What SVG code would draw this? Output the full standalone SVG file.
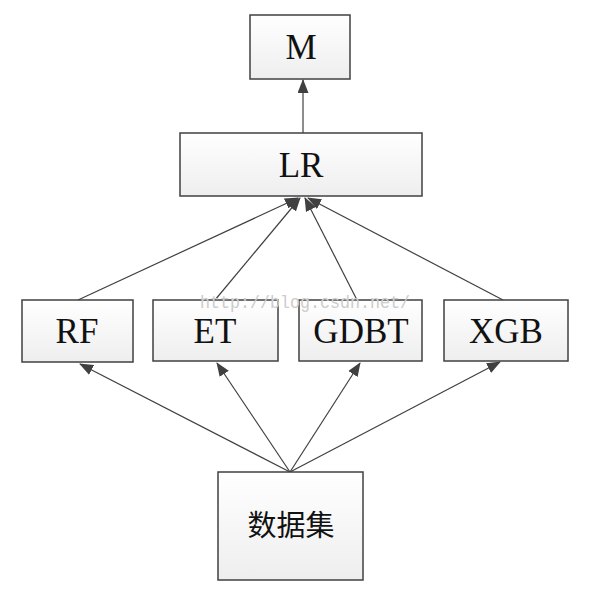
<svg xmlns="http://www.w3.org/2000/svg" width="592" height="590" viewBox="0 0 592 590">
<defs>
<linearGradient id="g" x1="0" y1="0" x2="0" y2="1">
<stop offset="0" stop-color="#ffffff"/>
<stop offset="1" stop-color="#eeeeee"/>
</linearGradient>
<marker id="a" markerWidth="14" markerHeight="11" refX="13" refY="5.5" orient="auto" markerUnits="userSpaceOnUse">
<path d="M0,0 L14,5.5 L0,11 Z" fill="#404040"/>
</marker>
<style>
.box{fill:url(#g);stroke:#404040;stroke-width:1.5}
.t{font-family:"Liberation Serif","Times New Roman",serif;font-size:35px;fill:#111;text-anchor:middle}
.c{font-family:"Noto Sans CJK SC",sans-serif;font-size:29px;fill:#111;text-anchor:middle}
.e{stroke:#404040;stroke-width:1.2;fill:none;marker-end:url(#a)}
.w{font-family:"Liberation Mono","Courier New",monospace;font-size:18px;fill:#cccccc}
</style>
</defs>
<rect width="592" height="590" fill="#ffffff"/>
<g id="connectors">
<line class="e" x1="303" y1="133" x2="303" y2="80"/>
<line class="e" x1="78" y1="300" x2="298" y2="198"/>
<line class="e" x1="215" y1="300" x2="300" y2="198"/>
<line class="e" x1="357" y1="300" x2="305" y2="198"/>
<line class="e" x1="503" y1="300" x2="308" y2="198"/>
<line class="e" x1="290" y1="472" x2="80" y2="364"/>
<line class="e" x1="290" y1="472" x2="217" y2="363"/>
<line class="e" x1="290" y1="472" x2="360" y2="363"/>
<line class="e" x1="290" y1="472" x2="500" y2="362"/>
</g>
<g id="M"><rect class="box" x="250" y="15" width="100" height="64"/><text class="t" x="301" y="59">M</text></g>
<g id="LR"><rect class="box" x="180" y="133" width="242" height="63"/><text class="t" x="301" y="177">LR</text></g>
<g id="RF"><rect class="box" x="22" y="300" width="111" height="62"/><text class="t" x="77" y="343">RF</text></g>
<g id="ET"><rect class="box" x="153" y="300" width="125" height="61"/><text class="t" x="215" y="343">ET</text></g>
<g id="GDBT"><rect class="box" x="299" y="300" width="123" height="61"/><text class="t" x="361" y="343">GDBT</text></g>
<g id="XGB"><rect class="box" x="444" y="300" width="124" height="61"/><text class="t" x="506" y="343">XGB</text></g>
<g id="dataset"><rect class="box" x="218" y="472" width="145" height="108"/><text class="c" x="291" y="536">数据集</text></g>
<text class="w" x="200" y="308" textLength="210" lengthAdjust="spacingAndGlyphs">http://blog.csdn.net/</text>
</svg>
